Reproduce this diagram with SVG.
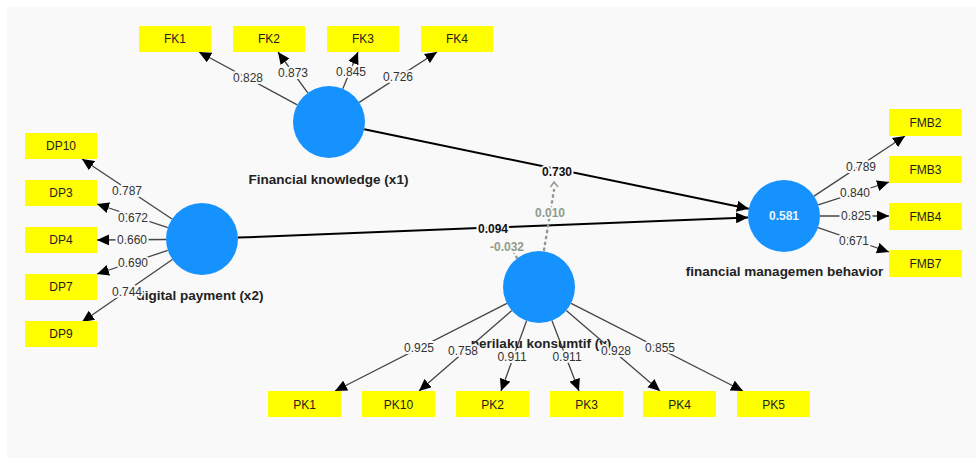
<svg xmlns="http://www.w3.org/2000/svg" width="976" height="458" viewBox="0 0 976 458">
<style>
.bg{fill:#f9f9f9}
.lv{fill:#1592fd}
.ind rect{fill:#ffff00}
.ind text{font-family:"Liberation Sans",Arial,sans-serif;font-size:12px;fill:#222;text-anchor:middle}
.ll{font-family:"Liberation Sans",Arial,sans-serif;font-size:13.5px;font-weight:bold;fill:#222;text-anchor:middle}
.ld{stroke:#444;stroke-width:1.3;fill:none}
.st{stroke:#000;stroke-width:2;fill:none}
.md{stroke:#8f9c8c;stroke-width:2.4;fill:none;stroke-dasharray:1.5,4.5;stroke-linecap:round}
.lab text{font-family:"Liberation Sans",Arial,sans-serif;font-size:12px;fill:#333;text-anchor:middle;stroke:#f9f9f9;stroke-width:4;paint-order:stroke;stroke-linejoin:round}
.lab text.b{font-weight:bold;fill:#111}
.lab text.g{font-weight:bold;fill:#8f9c8c}
</style>
<defs>
<marker id="ah" markerUnits="userSpaceOnUse" markerWidth="13" markerHeight="11" refX="12" refY="5.5" orient="auto">
<path d="M0,0 L12,5.5 L0,11 z" fill="#000"/>
</marker>
</defs>
<rect class="bg" x="7" y="7" width="969" height="451"/>
<g id="connectors">
<line class="ld" x1="297.3" y1="104.9" x2="199" y2="52" marker-end="url(#ah)"/>
<line class="ld" x1="307.8" y1="92.9" x2="278" y2="52" marker-end="url(#ah)"/>
<line class="ld" x1="342.8" y1="88.7" x2="358" y2="52" marker-end="url(#ah)"/>
<line class="ld" x1="359.2" y1="102.4" x2="437" y2="52" marker-end="url(#ah)"/>
<line class="ld" x1="172" y1="219" x2="82" y2="159" marker-end="url(#ah)"/>
<line class="ld" x1="167.8" y1="227.6" x2="97" y2="204" marker-end="url(#ah)"/>
<line class="ld" x1="166" y1="239.5" x2="97" y2="240" marker-end="url(#ah)"/>
<line class="ld" x1="167.8" y1="250.4" x2="97" y2="274" marker-end="url(#ah)"/>
<line class="ld" x1="172.4" y1="259.5" x2="82" y2="322" marker-end="url(#ah)"/>
<line class="ld" x1="814" y1="196.1" x2="905" y2="136" marker-end="url(#ah)"/>
<line class="ld" x1="818.2" y1="204.9" x2="889" y2="182" marker-end="url(#ah)"/>
<line class="ld" x1="820" y1="216" x2="889" y2="216" marker-end="url(#ah)"/>
<line class="ld" x1="818" y1="227.7" x2="889" y2="252" marker-end="url(#ah)"/>
<line class="ld" x1="506.9" y1="303.3" x2="335" y2="391" marker-end="url(#ah)"/>
<line class="ld" x1="511.8" y1="310.6" x2="419" y2="391" marker-end="url(#ah)"/>
<line class="ld" x1="526.6" y1="320.8" x2="501" y2="391" marker-end="url(#ah)"/>
<line class="ld" x1="551.9" y1="320.6" x2="579" y2="391" marker-end="url(#ah)"/>
<line class="ld" x1="566.3" y1="310.5" x2="660" y2="391" marker-end="url(#ah)"/>
<line class="ld" x1="571.1" y1="303.3" x2="743" y2="391" marker-end="url(#ah)"/>
<line class="st" x1="364.2" y1="129.3" x2="748.8" y2="208.7" marker-end="url(#ah)"/>
<line class="st" x1="238" y1="237.6" x2="748" y2="217.4" marker-end="url(#ah)"/>
<line class="md" x1="544" y1="250" x2="554" y2="190"/>
<polyline points="550.5,187 554,182 558,187" fill="none" stroke="#8f9c8c" stroke-width="1.5"/>
<line class="md" x1="517" y1="258" x2="506" y2="238"/>
</g>
<g id="FK1" class="ind"><rect x="139" y="26" width="72" height="26"/><text x="175" y="43">FK1</text></g>
<g id="FK2" class="ind"><rect x="233" y="26" width="72" height="26"/><text x="269" y="43">FK2</text></g>
<g id="FK3" class="ind"><rect x="327" y="26" width="72" height="26"/><text x="363" y="43">FK3</text></g>
<g id="FK4" class="ind"><rect x="421" y="26" width="72" height="26"/><text x="457" y="43">FK4</text></g>
<g id="DP10" class="ind"><rect x="25" y="133" width="72" height="26"/><text x="61" y="150">DP10</text></g>
<g id="DP3" class="ind"><rect x="25" y="180" width="72" height="26"/><text x="61" y="197">DP3</text></g>
<g id="DP4" class="ind"><rect x="25" y="227" width="72" height="26"/><text x="61" y="244">DP4</text></g>
<g id="DP7" class="ind"><rect x="25" y="274" width="72" height="26"/><text x="61" y="291">DP7</text></g>
<g id="DP9" class="ind"><rect x="25" y="321" width="72" height="26"/><text x="61" y="338">DP9</text></g>
<g id="FMB2" class="ind"><rect x="889" y="109" width="73" height="27"/><text x="925.5" y="127">FMB2</text></g>
<g id="FMB3" class="ind"><rect x="889" y="156" width="73" height="27"/><text x="925.5" y="174">FMB3</text></g>
<g id="FMB4" class="ind"><rect x="889" y="203" width="73" height="27"/><text x="925.5" y="221">FMB4</text></g>
<g id="FMB7" class="ind"><rect x="889" y="250" width="73" height="27"/><text x="925.5" y="268">FMB7</text></g>
<g id="PK1" class="ind"><rect x="268" y="391" width="73" height="26"/><text x="304.5" y="409">PK1</text></g>
<g id="PK10" class="ind"><rect x="362" y="391" width="73" height="26"/><text x="398.5" y="409">PK10</text></g>
<g id="PK2" class="ind"><rect x="456" y="391" width="73" height="26"/><text x="492.5" y="409">PK2</text></g>
<g id="PK3" class="ind"><rect x="550" y="391" width="73" height="26"/><text x="586.5" y="409">PK3</text></g>
<g id="PK4" class="ind"><rect x="643" y="391" width="73" height="26"/><text x="679.5" y="409">PK4</text></g>
<g id="PK5" class="ind"><rect x="737" y="391" width="73" height="26"/><text x="773.5" y="409">PK5</text></g>
<g id="x1"><circle class="lv" cx="329" cy="122" r="36"/><text class="ll" x="328.5" y="184">Financial knowledge (x1)</text></g>
<g id="x2"><circle class="lv" cx="202" cy="239" r="36"/><text class="ll" x="200" y="300">digital payment (x2)</text></g>
<g id="y"><circle class="lv" cx="539" cy="287" r="36"/><text class="ll" x="541" y="348">perilaku konsumtif (y)</text></g>
<g id="fmb"><circle class="lv" cx="784" cy="216" r="36"/><text class="ll" x="784" y="220" style="fill:#e8f2ff;font-size:12px">0.581</text><text class="ll" x="784.5" y="276">financial managemen behavior</text></g>
<g id="connector-labels" class="lab">
<text x="248" y="82">0.828</text>
<text x="293" y="77">0.873</text>
<text x="351" y="76">0.845</text>
<text x="398" y="81">0.726</text>
<text x="127" y="195">0.787</text>
<text x="133" y="222">0.672</text>
<text x="132" y="244">0.660</text>
<text x="133" y="267">0.690</text>
<text x="127" y="296">0.744</text>
<text x="861" y="171">0.789</text>
<text x="855" y="197">0.840</text>
<text x="856" y="220">0.825</text>
<text x="854" y="245">0.671</text>
<text x="419" y="352">0.925</text>
<text x="463" y="355">0.758</text>
<text x="512" y="361">0.911</text>
<text x="567" y="361">0.911</text>
<text x="616" y="355">0.928</text>
<text x="660" y="352">0.855</text>
<text class="b" x="557" y="176">0.730</text>
<text class="b" x="493" y="233">0.094</text>
<text class="g" x="550" y="217">0.010</text>
<text class="g" x="507" y="251">-0.032</text>
</g>
</svg>
